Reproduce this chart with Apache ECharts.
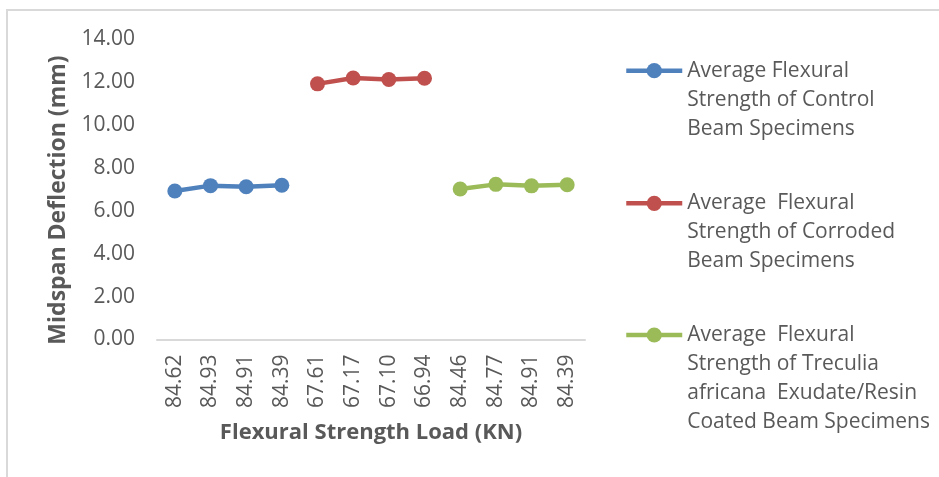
<!DOCTYPE html>
<html>
<head>
<meta charset="utf-8">
<script src="https://cdn.jsdelivr.net/npm/echarts@6/dist/echarts.min.js"></script>
<style>
  html, body { margin: 0; padding: 0; background: #fff; }
  #chart { width: 939px; height: 477px; }
</style>
</head>
<body>
<div id="chart"></div>
<script>
// Flexural strength load (KN) for each tested beam, in test order
const loadLabels = ['84.62', '84.93', '84.91', '84.39', '67.61', '67.17', '67.10', '66.94', '84.46', '84.77', '84.91', '84.39'];
const yTicks = [0, 2, 4, 6, 8, 10, 12, 14];

// Midspan deflection (mm) per beam group
const controlDeflection = [6.93, 7.18, 7.13, 7.20];
const corrodedDeflection = [11.93, 12.20, 12.13, 12.19];
const coatedDeflection = [7.02, 7.24, 7.17, 7.22];

const seriesNames = [
  'Average Flexural\nStrength of Control\nBeam Specimens',
  'Average  Flexural\nStrength of Corroded\nBeam Specimens',
  'Average  Flexural\nStrength of Treculia\nafricana  Exudate/Resin\nCoated Beam Specimens'
];
const seriesColors = ['#4F81BD', '#C0504D', '#9BBB59'];
const groups = [controlDeflection, corrodedDeflection, coatedDeflection];

const FONT = '"Open Sans", "Liberation Sans", sans-serif';
const TEXT = '#595959';
const LINE_H = 29;

// Each group occupies its own run of four beams on the shared category axis
function placeGroup(values, start) {
  const out = loadLabels.map(() => null);
  values.forEach((v, i) => { out[start + i] = v; });
  return out;
}

let offset = 0;
const series = groups.map((vals, gi) => {
  const s = {
    name: seriesNames[gi],
    type: 'line',
    data: placeGroup(vals, offset),
    symbol: 'circle',
    symbolSize: 15,
    color: seriesColors[gi],
    lineStyle: { width: 4.5, color: seriesColors[gi] },
    itemStyle: { color: seriesColors[gi] },
    connectNulls: false,
    animation: false
  };
  offset += vals.length;
  return s;
});

// One legend block per series; blank leading lines push the text down
// so the marker sits beside its first line
const legendCenters = [70.7, 203.3, 335];
const legends = seriesNames.map((name, i) => {
  const lines = name.split('\n').length;
  const boxH = (2 * lines - 1) * LINE_H;
  return {
    orient: 'vertical',
    left: 624,
    top: legendCenters[i] - boxH / 2,
    padding: 0,
    itemWidth: 56,
    itemHeight: 19,
    selectedMode: false,
    data: [name],
    lineStyle: { width: 4.5 },
    formatter: n => '\n'.repeat(lines - 1) + n,
    textStyle: {
      fontFamily: FONT,
      fontSize: 21,
      color: TEXT,
      lineHeight: LINE_H
    }
  };
});

const chart = echarts.init(document.getElementById('chart'), null, { renderer: 'canvas' });
chart.setOption({
  backgroundColor: '#ffffff',
  animation: false,
  grid: { left: 157, right: 354, top: 39.5, bottom: 137.5 },
  legend: legends,
  xAxis: {
    type: 'category',
    data: loadLabels,
    boundaryGap: true,
    name: 'Flexural Strength Load (KN)',
    nameLocation: 'middle',
    nameGap: 82,
    nameTextStyle: { fontFamily: FONT, fontSize: 22, fontWeight: 'bold', color: TEXT },
    axisLine: { show: true, lineStyle: { color: '#d9d9d9', width: 2 } },
    axisTick: { show: false },
    axisLabel: {
      rotate: 90,
      margin: 15,
      interval: 0,
      fontFamily: FONT,
      fontSize: 21,
      color: TEXT
    },
    splitLine: { show: false }
  },
  yAxis: {
    type: 'value',
    min: yTicks[0],
    max: yTicks[yTicks.length - 1],
    interval: yTicks[1] - yTicks[0],
    name: 'Midspan Deflection (mm)',
    nameLocation: 'middle',
    nameGap: 87,
    nameTextStyle: {
      fontFamily: FONT, fontSize: 23, fontWeight: 'bold', color: TEXT,
      padding: [0, 21, 0, 0]
    },
    axisLine: { show: false },
    axisTick: { show: false },
    splitLine: { show: false },
    axisLabel: {
      margin: 22,
      fontFamily: FONT,
      fontSize: 21,
      color: TEXT,
      formatter: v => v.toFixed(2)
    }
  },
  graphic: [{
    type: 'polyline',
    silent: true,
    shape: { points: [[7, 477], [7, 10], [939, 10]] },
    style: { stroke: '#d9d9d9', lineWidth: 2, fill: null }
  }],
  series: series
});
</script>
</body>
</html>
